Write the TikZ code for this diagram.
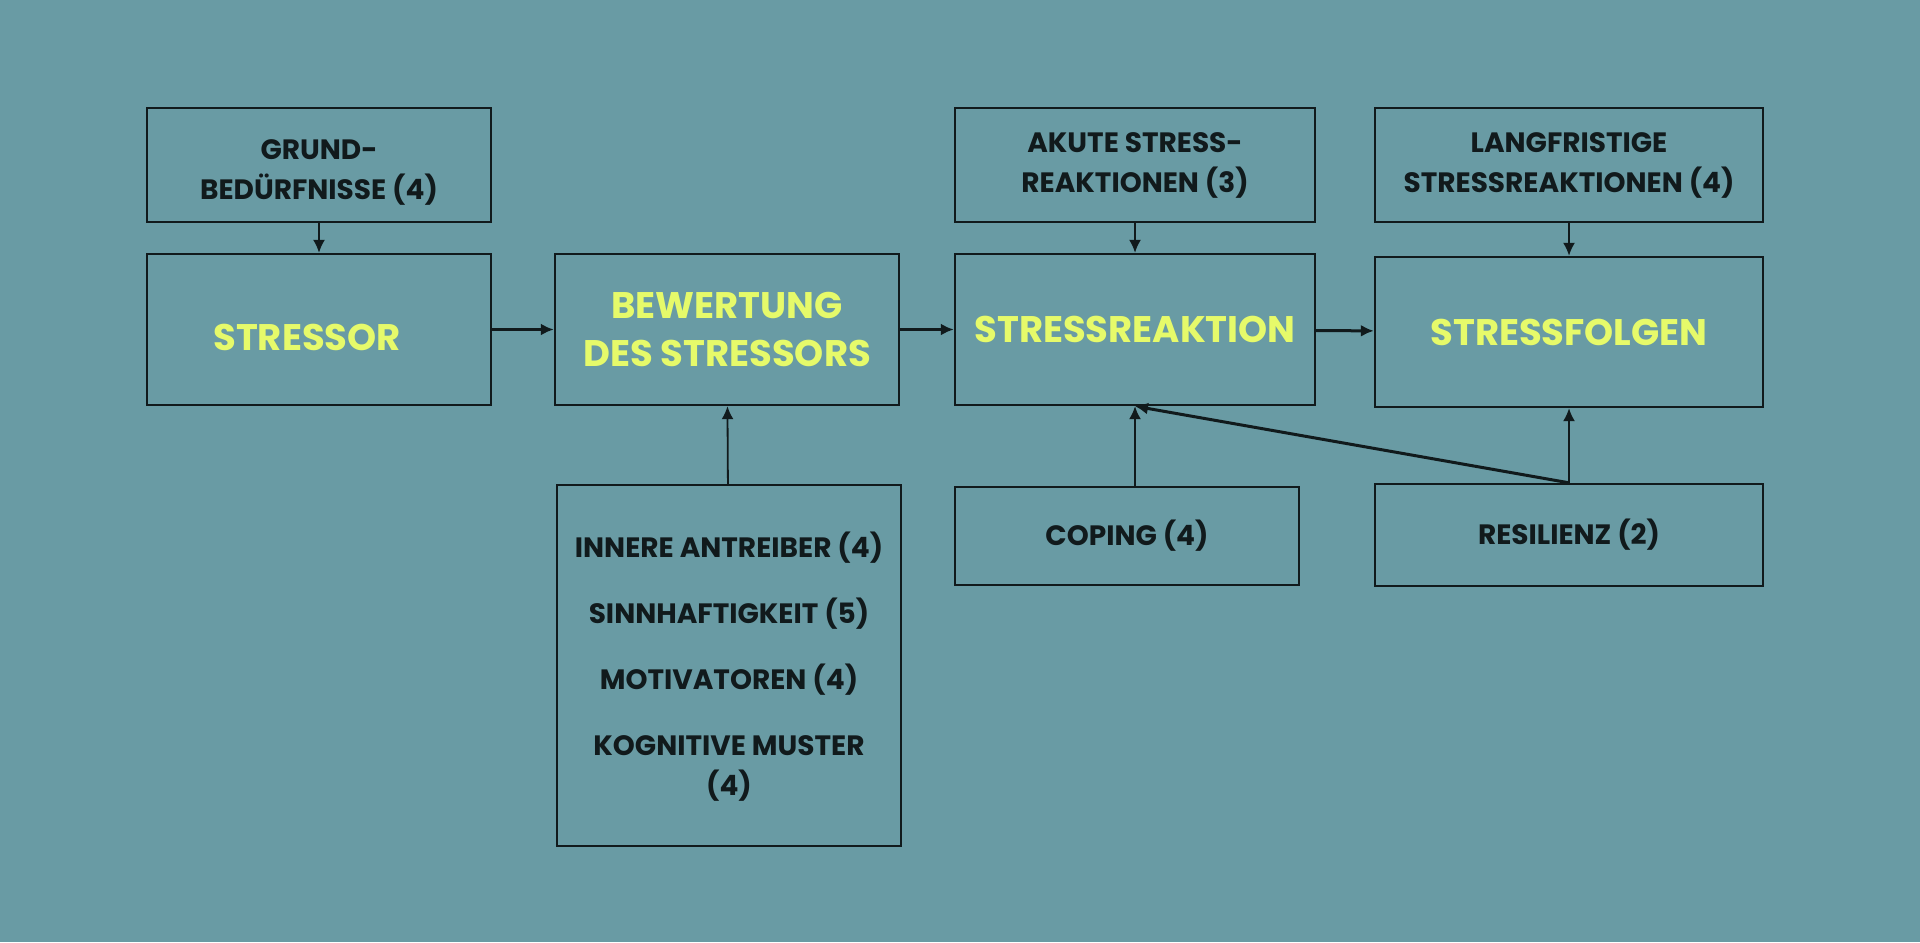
\documentclass[tikz,border=0pt]{standalone}
\usepackage{fontspec}
\setmainfont{Poppins}
\usetikzlibrary{arrows.meta}
\definecolor{petrol}{HTML}{699BA4}
\definecolor{gelb}{HTML}{E6FA6A}
\definecolor{dunkel}{HTML}{111A1C}

\begin{document}
\begin{tikzpicture}[x=0.5pt,y=-0.5pt,
	box/.style={draw=dunkel,line width=1.2pt,inner sep=0pt,align=center,text=dunkel,font=\bfseries\fontsize{14}{20}\selectfont},
	haupt/.style={box,text=gelb,font=\bfseries\fontsize{18.5}{24}\selectfont},
	pfeil/.style={-{Latex[length=6.5pt,width=6pt]},draw=dunkel,line width=0.9pt},
	dick/.style={pfeil,line width=1.5pt}]
	\fill[petrol] (0,0) rectangle (1920,942);
	\useasboundingbox (0,0) rectangle (1920,942);
	% obere Reihe
	\node[box,minimum width=172pt,minimum height=57pt] (grund) at (319,165) {\rule{0pt}{17pt}GRUND-\\BEDÜRFNISSE (4)};
	\node[box,minimum width=180pt,minimum height=57pt] (akute) at (1135,165) {AKUTE STRESS-\\REAKTIONEN (3)};
	\node[box,minimum width=194pt,minimum height=57pt] (langfr) at (1569,165) {LANGFRISTIGE\\STRESSREAKTIONEN (4)};
	% Hauptkette
	\node[haupt,minimum width=172pt,minimum height=75.5pt] (stressor) at (319,329.5) {\rule{0pt}{21pt}STRESSOR\hspace*{12pt}};
	\node[haupt,minimum width=172pt,minimum height=75.5pt] (bewertung) at (727,329.5) {BEWERTUNG\\DES STRESSORS};
	\node[haupt,minimum width=180pt,minimum height=75.5pt] (sreaktion) at (1135,329.5) {STRESSREAKTION};
	\node[haupt,minimum width=194pt,minimum height=75pt] (sfolgen) at (1569,332) {STRESSFOLGEN};
	% untere Reihe
	\node[box,minimum width=172pt,minimum height=180.5pt] (liste) at (729,665.5)
		{\rule{0pt}{14pt}INNERE ANTREIBER (4)\\[13pt]SINNHAFTIGKEIT (5)\\[13pt]MOTIVATOREN (4)\\[13pt]KOGNITIVE MUSTER\\(4)};
	\node[box,minimum width=172pt,minimum height=49pt] (coping) at (1127,536) {COPING (4)};
	\node[box,minimum width=194pt,minimum height=51pt] (resil) at (1569,535) {RESILIENZ (2)};
	% Pfeile
	\draw[pfeil] (grund) -- (stressor);
	\draw[pfeil] (akute) -- (sreaktion);
	\draw[pfeil] (langfr) -- (sfolgen);
	\draw[dick] (stressor) -- (bewertung);
	\draw[dick] (bewertung) -- (sreaktion);
	\draw[dick] (sreaktion) -- (sfolgen);
	\draw[pfeil] (liste) -- (bewertung);
	\draw[pfeil] (sreaktion.south |- coping.north) -- (sreaktion.south);
	\draw[pfeil] (resil) -- (sfolgen);
	\draw[dick] (resil.north) -- (sreaktion.south);
\end{tikzpicture}
\end{document}
